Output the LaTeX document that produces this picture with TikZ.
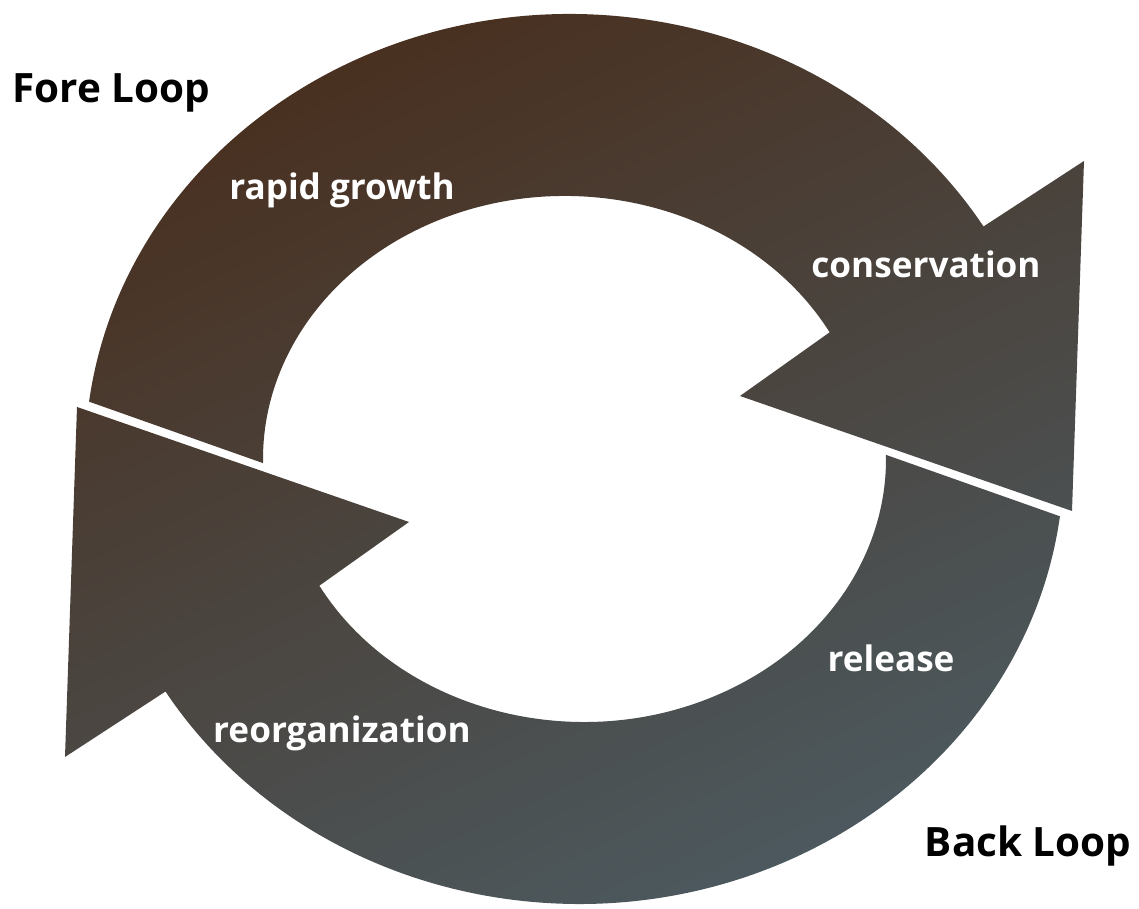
\documentclass[tikz,border=0pt]{standalone}
\usepackage{fontspec}
\setmainfont{Open Sans}
\usetikzlibrary{calc}
\definecolor{rustbrown}{RGB}{73,47,30}
\definecolor{olivegray}{RGB}{70,64,53}
\definecolor{slategray}{RGB}{76,90,96}
\begin{document}
\begin{tikzpicture}[x=0.1mm,y=0.1mm,
    loopname/.style={font=\fontsize{11.5}{13}\selectfont\bfseries, text=black, inner sep=0pt},
    phase/.style={font=\fontsize{10}{12}\selectfont\bfseries, text=white, inner sep=0pt}]
  \useasboundingbox (0,0) rectangle (1139,909);
  % centres of the rims
  \coordinate (foreout) at (570,450);
  \coordinate (forein) at (565,450);
  \coordinate (backout) at (579,450);
  \coordinate (backin) at (584,450);
  % both arrows, one shading
  \shade[top color=rustbrown, middle color=olivegray, bottom color=slategray, shading angle=25]
    ($(foreout)+(172.6:485 and 445)$) arc[start angle=172.6, end angle=31.5, x radius=485, y radius=445]
      -- (1084,748) -- (1072,398) -- (740,513)
      -- ($(forein)+(28.8:302 and 263)$) arc[start angle=28.8, end angle=180.9, x radius=302, y radius=263] -- cycle
    ($(backout)+(352.6:485 and 445)$) arc[start angle=352.6, end angle=211.5, x radius=485, y radius=445]
      -- (65,152) -- (77,502) -- (409,387)
      -- ($(backin)+(208.8:302 and 263)$) arc[start angle=208.8, end angle=360.9, x radius=302, y radius=263] -- cycle;
  % texts
  \node[loopname, anchor=base west] (fore) at (12,806) {Fore Loop};
  \node[loopname, anchor=base east] (back) at (1132,52) {Back Loop};
  \node[phase, anchor=base] (growth) at (342,709) {rapid growth};
  \node[phase, anchor=base] (conserve) at (926,631) {conservation};
  \node[phase, anchor=base] (releasing) at (891,237) {release};
  \node[phase, anchor=base] (reorg) at (342,166) {reorganization};
\end{tikzpicture}
\end{document}
